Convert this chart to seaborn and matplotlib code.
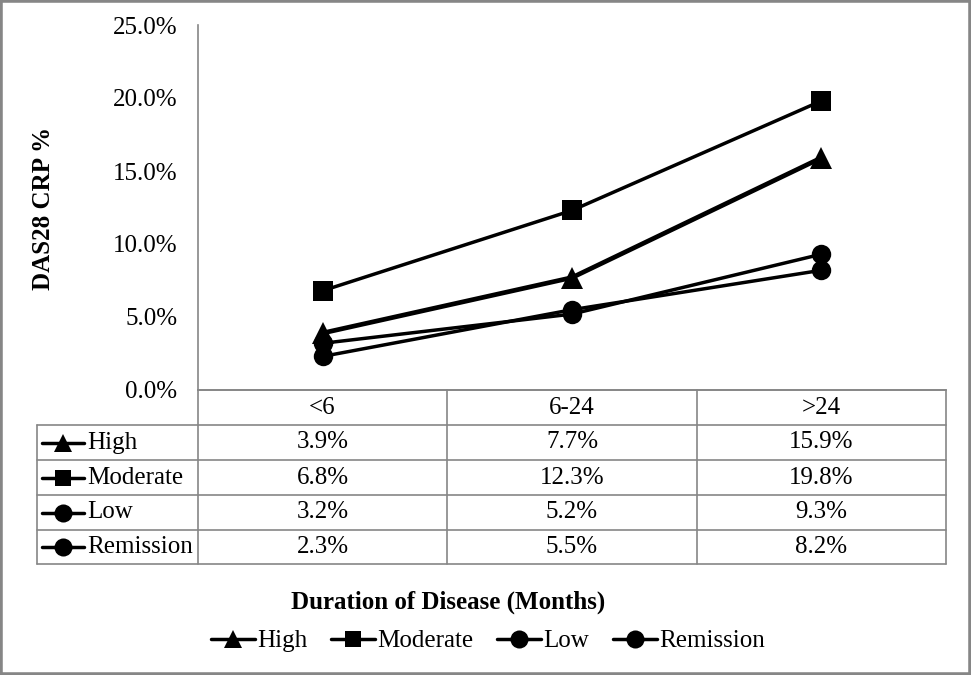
import matplotlib
matplotlib.use("Agg")
import matplotlib.pyplot as plt
from matplotlib.lines import Line2D
from matplotlib.patches import Rectangle
import pandas as pd
import seaborn as sns

# data
durations = ["<6", "6-24", ">24"]
severities = ["High", "Moderate", "Low", "Remission"]
high = [3.9, 7.7, 15.9]
moderate = [6.8, 12.3, 19.8]
low = [3.2, 5.2, 9.3]
remission = [2.3, 5.5, 8.2]
y_ticks = [0, 5, 10, 15, 20, 25]

series = {"High": high, "Moderate": moderate, "Low": low, "Remission": remission}
rows = []
for name, vals in series.items():
    for d, v in zip(durations, vals):
        rows.append({"duration": d, "pct": v, "severity": name})
df = pd.DataFrame(rows)

sns.set_theme(style="white")
plt.rcParams["font.family"] = ["Liberation Serif", "DejaVu Serif"]
for key in ["text.color", "axes.labelcolor", "xtick.color", "ytick.color"]:
    plt.rcParams[key] = "black"

W, H = 971, 675
fig = plt.figure(figsize=(W / 100, H / 100), dpi=100)

def fx(px):
    return px / W

def fy(py):
    return 1 - py / H

# plot area in pixel terms
L, R, T, B = 198, 946, 25, 390
ax = fig.add_axes([fx(L), fy(B), fx(R - L), (B - T) / H])

markers = {"High": "^", "Moderate": "s", "Low": "o", "Remission": "o"}
palette = {s: "black" for s in severities}
sns.lineplot(
    data=df, x="duration", y="pct", hue="severity", style="severity",
    markers=markers, dashes=False, palette=palette, markersize=14,
    linewidth=2.5, markeredgewidth=0, ax=ax, sort=False,
)
ax.lines[0].set_linewidth(3.4)
ax.lines[0].set_markersize(16)
ax.get_legend().remove()

ax.set_xlim(-0.5, 2.5)
ax.set_ylim(0, 25)
ax.set_yticks(y_ticks)
ax.set_yticklabels([f"{t:.1f}%" for t in y_ticks], fontsize=18)
ax.set_xticks([])
ax.set_xlabel("")
ax.set_ylabel("")
ax.tick_params(axis="y", length=0, pad=15, colors="black")
for side in ["top", "right"]:
    ax.spines[side].set_visible(False)
for side in ["left", "bottom"]:
    ax.spines[side].set_color("#868686")
    ax.spines[side].set_linewidth(1.2)

# data table below the plot
grid = "#868686"
col_x = [L, 447, 697, R]
row_y = [B, 425, 460, 495, 530, 564]
tl = dict(color=grid, lw=1.2, transform=fig.transFigure)
for x in col_x:
    fig.add_artist(Line2D([fx(x), fx(x)], [fy(B), fy(row_y[-1])], **tl))
fig.add_artist(Line2D([fx(37), fx(37)], [fy(row_y[1]), fy(row_y[-1])], **tl))
fig.add_artist(Line2D([fx(L), fx(R)], [fy(B), fy(B)], **tl))
for y in row_y[1:]:
    fig.add_artist(Line2D([fx(37), fx(R)], [fy(y), fy(y)], **tl))

for j, d in enumerate(durations):
    cx = (col_x[j] + col_x[j + 1]) / 2
    fig.text(fx(cx), fy((row_y[0] + row_y[1]) / 2), d, ha="center", va="center", fontsize=18)

tab_ms = {"High": 13, "Moderate": 12, "Low": 13, "Remission": 13}
for i, name in enumerate(severities):
    cy = (row_y[i + 1] + row_y[i + 2]) / 2
    fig.add_artist(Line2D([fx(42), fx(84)], [fy(cy), fy(cy)], color="black", lw=2.5,
                          transform=fig.transFigure))
    fig.add_artist(Line2D([fx(63)], [fy(cy)], color="black", lw=0, marker=markers[name],
                          markersize=tab_ms[name], markeredgewidth=0,
                          transform=fig.transFigure))
    fig.text(fx(87), fy(cy), name, ha="left", va="center", fontsize=18)
    for j, v in enumerate(series[name]):
        cx = (col_x[j] + col_x[j + 1]) / 2
        fig.text(fx(cx), fy(cy), f"{v:.1f}%", ha="center", va="center", fontsize=18)

# axis titles
fig.text(fx(44), fy(208), "DAS28 CRP %", rotation=90, ha="center", va="center",
         fontsize=18, fontweight="bold")
fig.text(fx(448), fy(602), "Duration of Disease (Months)", ha="center", va="center",
         fontsize=18, fontweight="bold")

# legend at the bottom
handles = [Line2D([0], [0], color="black", lw=2.5, marker=markers[s],
                  markersize=tab_ms[s], markeredgewidth=0) for s in severities]
fig.legend(handles, severities, loc="center", bbox_to_anchor=(fx(488), fy(641)), ncol=4,
           frameon=False, fontsize=18, handlelength=1.75, handletextpad=0.1, columnspacing=0.95)

# outer border of the chart
fig.add_artist(Rectangle((0, 0), 1, 1, transform=fig.transFigure, fill=False,
                         edgecolor="#868686", lw=4))

fig.savefig("out.png", dpi=100)
